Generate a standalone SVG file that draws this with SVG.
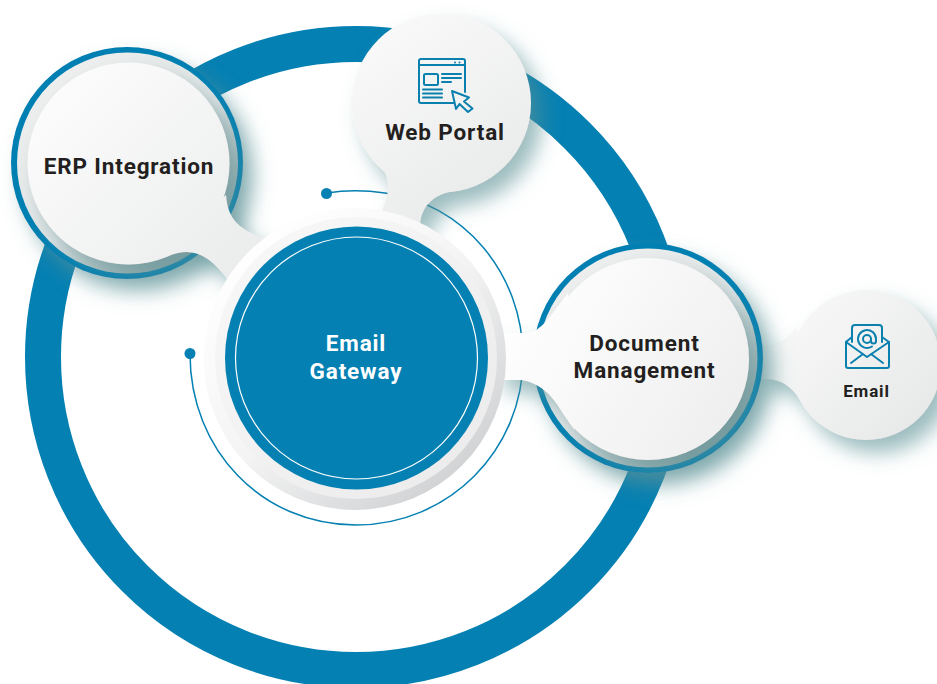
<svg xmlns="http://www.w3.org/2000/svg" width="937" height="684" viewBox="0 0 937 684">
<style>
text{font-family:Roboto,"Liberation Sans",sans-serif;font-weight:700;fill:#231f20;text-anchor:middle;letter-spacing:.85px}
.w{fill:#fff;font-size:22.5px}
.ic{fill:none;stroke:#0a80ae;stroke-width:2;stroke-linecap:round;stroke-linejoin:round}
.blue{fill:#0580b2}
</style>
<defs>
<filter id="sh" x="-30%" y="-30%" width="170%" height="170%"><feDropShadow dx="11" dy="13" stdDeviation="10" flood-color="#5a9094" flood-opacity=".6"/></filter>
<linearGradient id="rim" x1="0.15" y1="0.1" x2="0.85" y2="0.9"><stop offset="0" stop-color="#efefef"/><stop offset=".55" stop-color="#e2e5e5"/><stop offset="1" stop-color="#8ea3a4"/></linearGradient>
<linearGradient id="d1" x1="0.15" y1="0.1" x2="0.85" y2="0.9"><stop offset="0" stop-color="#ffffff"/><stop offset=".5" stop-color="#f4f4f4"/><stop offset="1" stop-color="#cfd1d3"/></linearGradient>
<linearGradient id="d2" x1="0.15" y1="0.1" x2="0.85" y2="0.9"><stop offset="0" stop-color="#f7f7f7"/><stop offset="1" stop-color="#ececec"/></linearGradient>
<linearGradient id="fE" gradientUnits="userSpaceOnUse" x1="50" y1="80" x2="240" y2="270"><stop offset="0" stop-color="#fcfcfc"/><stop offset="1" stop-color="#ebecec"/></linearGradient>
<linearGradient id="fW" gradientUnits="userSpaceOnUse" x1="380" y1="30" x2="500" y2="200"><stop offset="0" stop-color="#f9f9f9"/><stop offset="1" stop-color="#e9eaea"/></linearGradient>
<linearGradient id="fD" gradientUnits="userSpaceOnUse" x1="510" y1="300" x2="730" y2="440"><stop offset="0" stop-color="#ffffff"/><stop offset="1" stop-color="#eeeeef"/></linearGradient>
<linearGradient id="fM" gradientUnits="userSpaceOnUse" x1="790" y1="310" x2="920" y2="430"><stop offset="0" stop-color="#f8f8f8"/><stop offset="1" stop-color="#e7e8e8"/></linearGradient>
</defs>

<g id="connectors">
<circle cx="356" cy="357" r="313" fill="none" stroke="#0580b2" stroke-width="36"/>
<path d="M190 354C190 450 262 525 356 525C449 525 523 450 523 358C523 272 462 203 385 193C365 190 345 190 327 193" fill="none" stroke="#0580b2" stroke-width="1.500"/>
<circle class="blue" cx="190" cy="353.500" r="5.500"/>
<circle class="blue" cx="326.500" cy="193.500" r="5.500"/>
</g>

<g id="node-email">
<g filter="url(#sh)" fill="url(#fM)">
<circle cx="866" cy="365" r="75"/>
<path d="M755 345H765C780 345 788 338 797 326L800 400C792 387 782 379 765 379H755Z"/>
</g>
<g class="ic">
<path d="M852 342V328a3 3 0 0 1 3-3H879a3 3 0 0 1 3 3V342"/>
<path d="M852 337L846 342V366a2 2 0 0 0 2 2H887a2 2 0 0 0 2-2V342L882 337"/>
<path d="M846 342L867 357L889 342M851 363L863 354M883 363L871 354"/>
<circle cx="867" cy="339" r="4"/>
<path d="M871 339V341a2.500 2.500 0 0 0 5 0V339a9 9 0 1 0-4 7.500"/>
</g>
<text x="866.500" y="397" font-size="17">Email</text>
</g>

<g id="node-erp">
<circle cx="127" cy="163" r="116" fill="#0580b2" filter="url(#sh)"/>
<circle cx="127.500" cy="163" r="110.500" fill="url(#rim)"/>
<g filter="url(#sh)" fill="url(#fE)">
<circle cx="128.500" cy="163.500" r="101"/>
<path d="M226 195C228 225 245 230 266 240L232 285C215 262 200 248 178 253C168 255 160 258 150 262Z"/>
</g>
<text x="129" y="174" font-size="22.500">ERP Integration</text>
</g>

<g id="node-web">
<g filter="url(#sh)" fill="url(#fW)">
<circle cx="441.500" cy="103" r="89.500"/>
<path d="M383 168C392 185 388 198 380 215L420 228C420 205 435 192 462 190Z"/>
</g>
<g class="ic">
<path d="M459 103H421a2 2 0 0 1-2-2V61a2 2 0 0 1 2-2H463a2 2 0 0 1 2 2V92"/>
<path d="M419 65H465"/>
<rect x="424" y="74" width="14" height="11" rx="1.500"/>
<path d="M442 74H461M442 78H461M442 82H451M423 89.500H442M423 93.500H442M423 97.500H442"/>
<path d="M452 91L469 97.500L464 101.500L472.500 108.500L468 112L459.500 104L456 109Z" fill="#f1f2f2"/>
</g>
<circle cx="455" cy="62.500" r="1" fill="#0a80ae"/>
<circle cx="459.500" cy="62.500" r="1" fill="#0a80ae"/>
<text x="445" y="140" font-size="22.500">Web Portal</text>
</g>

<g id="node-document">
<circle cx="648" cy="358" r="115" fill="#0580b2" filter="url(#sh)"/>
<circle cx="648" cy="358" r="109.500" fill="url(#rim)"/>
<g filter="url(#sh)" fill="url(#fD)">
<circle cx="648" cy="359" r="101"/>
<path d="M495 333H528C541 331 549 318 568 293L575 430C562 415 552 385 522 380H495Z"/>
</g>
<text x="644.500" y="351" font-size="22.500">Document</text>
<text x="644.500" y="378" font-size="22.500">Management</text>
</g>

<g id="node-gateway">
<circle cx="355" cy="359" r="151" fill="url(#d1)"/>
<circle cx="356" cy="358" r="141" fill="url(#d2)"/>
<circle class="blue" cx="356.500" cy="358" r="131.500"/>
<circle cx="356.500" cy="358" r="121" fill="none" stroke="#fff" stroke-width="1.200"/>
<text class="w" x="356" y="351">Email</text>
<text class="w" x="356" y="379">Gateway</text>
</g>
</svg>
